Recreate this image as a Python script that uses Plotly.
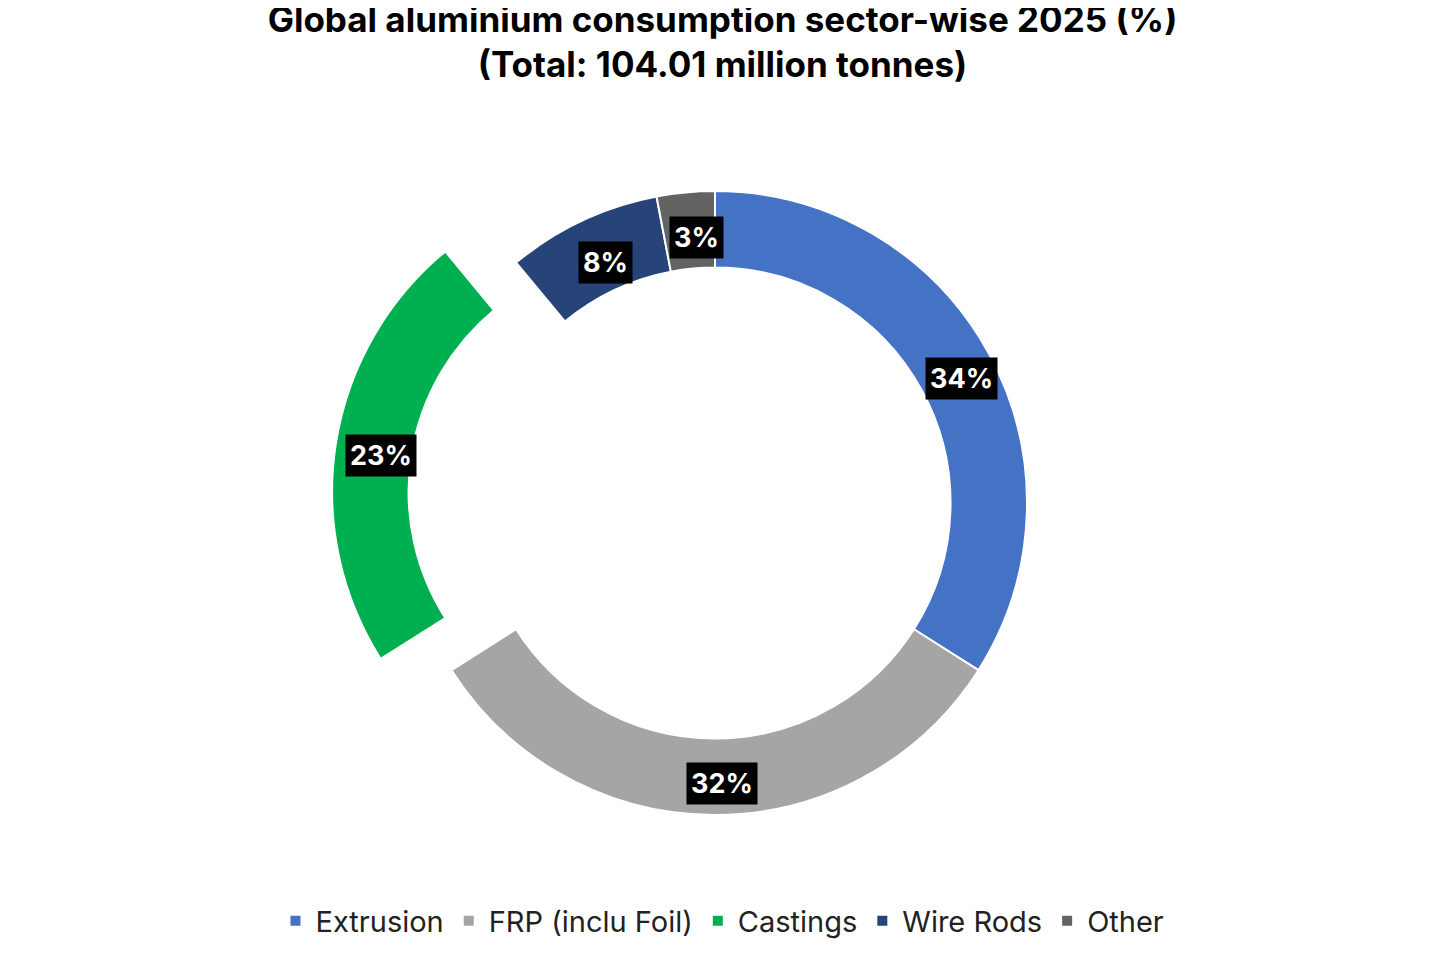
import plotly.graph_objects as go
import math

labels = ["Extrusion", "FRP (inclu Foil)", "Castings", "Wire Rods", "Other"]
values = [34, 32, 23, 8, 3]
colors = ["#4472C4", "#A5A5A5", "#00B050", "#264478", "#636363"]
pulls = [0, 0, 0.23, 0, 0]

W, H = 1429, 954
cx, cy, R = 714, 502, 312
hole = 0.755
maxpull = max(pulls)
Rd = R * (1 + maxpull)
dx, dy = -7, -7

fig = go.Figure(go.Pie(
    labels=labels, values=values, sort=False, direction="clockwise", rotation=0,
    hole=hole, pull=pulls, textinfo="none", hoverinfo="label+percent",
    marker=dict(colors=colors, line=dict(color="white", width=2)),
    domain=dict(x=[(cx + dx - Rd) / W, (cx + dx + Rd) / W],
                y=[1 - (cy + dy + Rd) / H, 1 - (cy + dy - Rd) / H]),
))

total = sum(values)
cum = 0
for v, p in zip(values, pulls):
    mid = (cum + v / 2) / total * 2 * math.pi
    cum += v
    r = R * (1 + hole) / 2 + p * R
    x = cx + r * math.sin(mid)
    y = cy - r * math.cos(mid)
    fig.add_annotation(x=x / W, y=1 - y / H, xref="paper", yref="paper",
                       xanchor="center", yanchor="middle",
                       text=f"<b>{round(v / total * 100)}%</b>", showarrow=False,
                       font=dict(family="Inter", size=27, color="white"),
                       bgcolor="black", borderpad=4)

fig.update_layout(
    width=W, height=H, margin=dict(l=0, r=0, t=0, b=0),
    paper_bgcolor="white", plot_bgcolor="white",
    title=dict(text="<b>Global aluminium consumption sector-wise 2025 (%)<br>(Total: 104.01 million tonnes)</b>",
               x=0.5, y=0.975, xanchor="center", yanchor="top",
               font=dict(family="Inter", size=35, color="black")),
    legend=dict(orientation="h", x=0.5, xanchor="center", y=0.043, yanchor="middle",
                font=dict(family="Inter", size=29, color="#222"), itemwidth=30,
                traceorder="normal"),
)
fig.write_html("out.html")
